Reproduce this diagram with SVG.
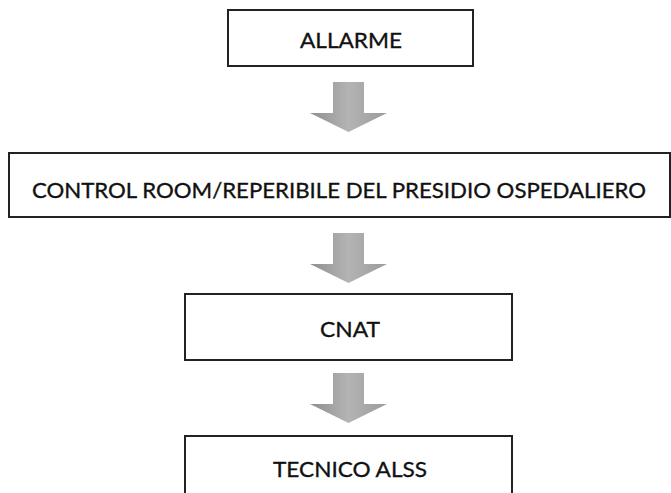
<svg xmlns="http://www.w3.org/2000/svg" width="671" height="493" viewBox="0 0 671 493">
<style>
.box{fill:#fff;stroke:#222;stroke-width:2}
.lbl{font-family:Lato,"Open Sans","Liberation Sans",sans-serif;font-size:22px;fill:#111;text-anchor:middle;dominant-baseline:central;stroke:#111;stroke-width:0.35}
.arr{fill:url(#g);stroke:none}
</style>
<defs>
<linearGradient id="g" x1="0" y1="0" x2="1" y2="0">
<stop offset="0" stop-color="#8e8e8e"/>
<stop offset="0.5" stop-color="#b4b4b4"/>
<stop offset="1" stop-color="#9a9a9a"/>
</linearGradient>
<path id="a" d="M-15.5 0 H15.5 V31 H38.5 L0 50 L-38.5 31 H-15.5 Z"/>
</defs>
<rect width="671" height="493" fill="#fff"/>
<g id="connectors">
<use href="#a" class="arr" x="348.5" y="82"/>
<use href="#a" class="arr" x="348.5" y="233"/>
<use href="#a" class="arr" x="348.5" y="373"/>
</g>
<g id="n1"><rect class="box" x="228" y="10" width="245" height="56"/><text class="lbl" x="351" y="39" textLength="102" lengthAdjust="spacingAndGlyphs">ALLARME</text></g>
<g id="n2"><rect class="box" x="9" y="153" width="661" height="64"/><text class="lbl" x="339" y="189" textLength="614" lengthAdjust="spacingAndGlyphs">CONTROL ROOM/REPERIBILE DEL PRESIDIO OSPEDALIERO</text></g>
<g id="n3"><rect class="box" x="185" y="294" width="327" height="66"/><text class="lbl" x="350" y="328" textLength="60" lengthAdjust="spacingAndGlyphs">CNAT</text></g>
<g id="n4"><rect class="box" x="185" y="436" width="327" height="70"/><text class="lbl" x="350" y="468" textLength="154" lengthAdjust="spacingAndGlyphs">TECNICO ALSS</text></g>
</svg>
